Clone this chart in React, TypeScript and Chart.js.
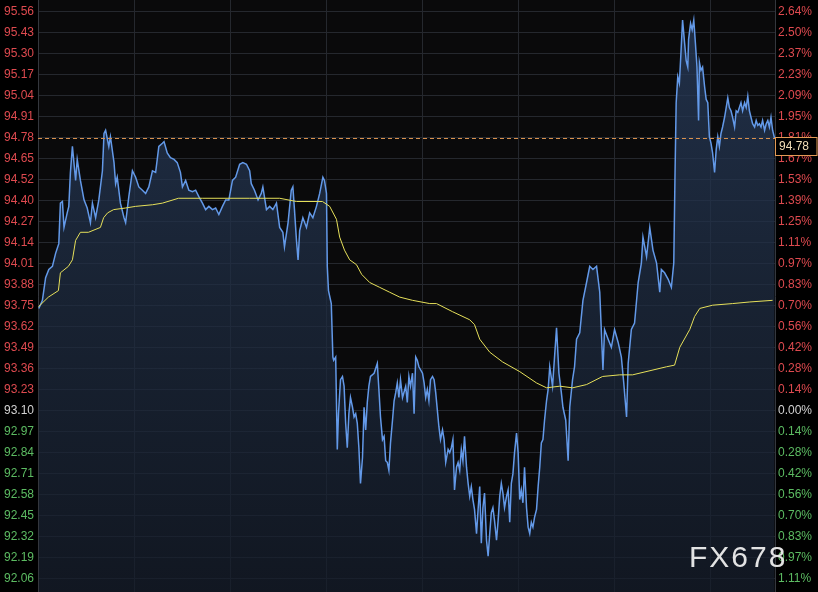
import React, { useEffect, useRef } from "react";
import { Chart, registerables } from "chart.js";

Chart.register(...registerables);

// ---------- DATA ----------
// minutes since the start of the window (gridline every 240 min)
const priceTimes = [
  2, 11, 19, 27, 36, 44, 52, 56, 61, 65,
  73, 77, 81, 86, 94, 98, 106, 115, 123, 131,
  136, 144, 152, 161, 165, 169, 177, 181, 190, 194,
  198, 206, 215, 219, 227, 236, 244, 252, 261, 269,
  277, 286, 294, 302, 311, 315, 323, 331, 340, 348,
  356, 361, 369, 377, 386, 394, 402, 411, 419, 427,
  436, 444, 452, 461, 469, 477, 486, 494, 504, 512,
  521, 529, 533, 541, 550, 558, 562, 571, 579, 587,
  596, 604, 612, 616, 625, 633, 637, 641, 646, 650,
  654, 662, 671, 679, 687, 696, 704, 712, 716, 721,
  723, 726, 733, 737, 739, 744, 748, 751, 756, 761,
  765, 769, 773, 777, 781, 786, 790, 794, 798, 802,
  806, 811, 815, 819, 823, 827, 831, 840, 848, 852,
  856, 861, 865, 869, 873, 877, 881, 886, 890, 894,
  898, 902, 906, 911, 919, 923, 927, 931, 936, 940,
  944, 948, 952, 961, 965, 969, 973, 977, 981, 986,
  990, 994, 1002, 1006, 1011, 1015, 1019, 1025, 1029, 1033,
  1037, 1041, 1046, 1050, 1054, 1058, 1062, 1066, 1071, 1075,
  1079, 1083, 1087, 1091, 1096, 1100, 1104, 1108, 1112, 1116,
  1121, 1125, 1129, 1133, 1137, 1141, 1146, 1150, 1154, 1158,
  1162, 1166, 1171, 1175, 1179, 1183, 1187, 1191, 1196, 1200,
  1204, 1208, 1212, 1216, 1221, 1225, 1229, 1233, 1237, 1241,
  1246, 1250, 1254, 1258, 1262, 1266, 1271, 1275, 1279, 1286,
  1291, 1296, 1302, 1308, 1312, 1319, 1325, 1329, 1336, 1341,
  1346, 1354, 1362, 1371, 1379, 1387, 1396, 1404, 1412, 1416,
  1425, 1433, 1441, 1450, 1458, 1464, 1471, 1475, 1483, 1491,
  1500, 1508, 1512, 1521, 1529, 1537, 1546, 1554, 1558, 1566,
  1575, 1583, 1589, 1592, 1595, 1599, 1603, 1607, 1611, 1616,
  1620, 1624, 1626, 1631, 1635, 1639, 1643, 1647, 1651, 1653,
  1657, 1661, 1666, 1670, 1674, 1678, 1682, 1686, 1691, 1695,
  1699, 1703, 1707, 1711, 1716, 1720, 1724, 1728, 1732, 1736,
  1741, 1745, 1749, 1753, 1757, 1761, 1766, 1770, 1774, 1778,
  1782, 1786, 1791, 1795, 1799, 1803, 1807, 1811, 1816, 1820,
  1824, 1828, 1832, 1836, 1841,
];

const prices = [
  93.73, 93.78, 93.92, 93.97, 93.99, 94.07, 94.13, 94.38, 94.39, 94.23,
  94.32, 94.36, 94.57, 94.73, 94.52, 94.65, 94.52, 94.40, 94.35, 94.26,
  94.38, 94.29, 94.40, 94.58, 94.81, 94.83, 94.73, 94.79, 94.63, 94.50,
  94.54, 94.38, 94.29, 94.26, 94.42, 94.58, 94.54, 94.48, 94.46, 94.44,
  94.48, 94.58, 94.57, 94.73, 94.75, 94.76, 94.69, 94.66, 94.65, 94.63,
  94.57, 94.48, 94.52, 94.46, 94.45, 94.46, 94.42, 94.38, 94.34, 94.36,
  94.34, 94.35, 94.31, 94.36, 94.40, 94.40, 94.52, 94.54, 94.62, 94.63,
  94.62, 94.58, 94.50, 94.46, 94.40, 94.44, 94.48, 94.34, 94.36, 94.34,
  94.38, 94.23, 94.20, 94.11, 94.26, 94.46, 94.48, 94.34, 94.15, 94.03,
  94.21, 94.29, 94.23, 94.32, 94.29, 94.36, 94.44, 94.54, 94.52, 94.44,
  93.99, 93.84, 93.76, 93.43, 93.41, 93.43, 92.86, 93.08, 93.29, 93.31,
  93.25, 93.02, 92.87, 93.08, 93.18, 93.12, 93.06, 93.08, 93.02, 92.87,
  92.65, 92.81, 93.12, 92.98, 93.15, 93.25, 93.31, 93.33, 93.39, 93.23,
  93.06, 92.92, 92.94, 92.79, 92.78, 92.73, 92.90, 93.04, 93.16, 93.21,
  93.27, 93.18, 93.29, 93.18, 93.25, 93.15, 93.31, 93.25, 93.33, 93.08,
  93.43, 93.41, 93.37, 93.33, 93.27, 93.18, 93.23, 93.16, 93.29, 93.31,
  93.29, 93.21, 93.00, 92.92, 92.98, 92.92, 92.78, 92.86, 92.84, 92.87,
  92.92, 92.61, 92.75, 92.78, 92.73, 92.86, 92.79, 92.94, 92.75, 92.65,
  92.57, 92.63, 92.55, 92.49, 92.34, 92.49, 92.63, 92.28, 92.50, 92.59,
  92.30, 92.20, 92.34, 92.47, 92.50, 92.42, 92.30, 92.42, 92.57, 92.65,
  92.59, 92.50, 92.57, 92.61, 92.41, 92.65, 92.71, 92.84, 92.96, 92.84,
  92.55, 92.61, 92.53, 92.75, 92.50, 92.38, 92.34, 92.41, 92.38, 92.44,
  92.49, 92.63, 92.75, 92.90, 92.92, 93.04, 93.16, 93.23, 93.37, 93.25,
  93.43, 93.61, 93.33, 93.21, 93.12, 93.04, 92.79, 93.12, 93.29, 93.37,
  93.54, 93.58, 93.78, 93.89, 93.99, 93.97, 93.99, 93.83, 93.35, 93.60,
  93.54, 93.49, 93.60, 93.52, 93.43, 93.27, 93.06, 93.39, 93.60, 93.64,
  93.89, 94.01, 94.17, 94.05, 94.23, 94.09, 94.01, 93.83, 93.97, 93.95,
  93.91, 93.86, 94.01, 94.54, 95.00, 95.16, 95.12, 95.31, 95.51, 95.37,
  95.26, 95.22, 95.39, 95.49, 95.45, 95.51, 95.37, 95.22, 94.89, 95.25,
  95.20, 95.22, 95.10, 95.02, 95.00, 94.79, 94.75, 94.69, 94.57, 94.71,
  94.79, 94.73, 94.81, 94.85, 94.91, 94.97, 95.03, 94.97, 94.95, 94.91,
  94.85, 94.95, 94.94, 94.97, 95.00, 94.95, 95.00, 94.97, 95.04, 94.95,
  94.91, 94.87, 94.85, 94.89, 94.86, 94.87, 94.85, 94.89, 94.83, 94.87,
  94.89, 94.85, 94.91, 94.83, 94.78,
];

const maTimes = [
  1, 26, 51, 56, 76, 86, 94, 106, 126, 156,
  164, 174, 189, 219, 244, 286, 311, 351, 411, 479,
  529, 604, 646, 711, 729, 746, 754, 766, 779, 796,
  809, 829, 854, 879, 904, 936, 979, 996, 1036, 1079,
  1091, 1104, 1129, 1161, 1204, 1246, 1271, 1304, 1336, 1371,
  1411, 1454, 1486, 1571, 1591, 1604, 1629, 1641, 1654, 1686,
  1736, 1779, 1836,
];

const maValues = [
  93.74, 93.80, 93.84, 93.95, 93.99, 94.03, 94.15, 94.20, 94.20, 94.23,
  94.29, 94.32, 94.34, 94.35, 94.36, 94.37, 94.38, 94.41, 94.41, 94.41,
  94.41, 94.41, 94.39, 94.39, 94.36, 94.28, 94.17, 94.09, 94.03, 94.00,
  93.94, 93.89, 93.86, 93.83, 93.80, 93.78, 93.76, 93.76, 93.71, 93.66,
  93.63, 93.54, 93.46, 93.40, 93.34, 93.27, 93.24, 93.25, 93.24, 93.26,
  93.31, 93.32, 93.32, 93.37, 93.38, 93.49, 93.60, 93.68, 93.73, 93.75,
  93.76, 93.77, 93.78,
];

const leftTickLabels = [
  "95.56", "95.43", "95.30", "95.17", "95.04", "94.91", "94.78",
  "94.65", "94.52", "94.40", "94.27", "94.14", "94.01", "93.88",
  "93.75", "93.62", "93.49", "93.36", "93.23", "93.10", "92.97",
  "92.84", "92.71", "92.58", "92.45", "92.32", "92.19", "92.06",
];

const rightTickLabels = [
  "2.64%", "2.50%", "2.37%", "2.23%", "2.09%", "1.95%", "1.81%",
  "1.67%", "1.53%", "1.39%", "1.25%", "1.11%", "0.97%", "0.83%",
  "0.70%", "0.56%", "0.42%", "0.28%", "0.14%", "0.00%", "0.14%",
  "0.28%", "0.42%", "0.56%", "0.70%", "0.83%", "0.97%", "1.11%",
];

const baseLabel = "93.10";
const lastPrice = 94.78;
const lastPriceLabel = "94.78";
const gridTimes = [0, 240, 480, 720, 960, 1200, 1440, 1680];
const timeSpan = 1842;
const watermark = "FX678";

// ---------- STYLE ----------
const W = 818;
const H = 592;
const FONT = '"Liberation Sans", Arial, sans-serif';
const RED = "#de4a4f";
const GREEN = "#5cbb62";
const WHITE = "#d2d2d2";
const GRID = "#25282e";

export default function App() {
  const ref = useRef<HTMLCanvasElement | null>(null);

  useEffect(() => {
    document.body.style.margin = "0";
    document.body.style.background = "#000";
    const canvas = ref.current;
    if (!canvas) return;

    const n = leftTickLabels.length;
    const topV = parseFloat(leftTickLabels[0]);
    const botV = parseFloat(leftTickLabels[n - 1]);
    const step = (topV - botV) / (n - 1);
    const tickValues = leftTickLabels.map((_, i) => botV + i * step); // ascending
    const baseIdx = leftTickLabels.indexOf(baseLabel);
    const baseValue = topV - baseIdx * step;
    const yMin = botV - step * 0.62;
    const yMax = topV + step * 0.57;

    const tickColor = (c: any) => {
      const v = c && c.tick ? c.tick.value : baseValue;
      if (Math.abs(v - baseValue) < step / 4) return WHITE;
      return v > baseValue ? RED : GREEN;
    };

    const labelFor = (arr: string[]) => (_v: any, idx: number) => arr[n - 1 - idx];

    const setTicks = (scale: any) => {
      scale.ticks = tickValues.map((v) => ({ value: v }));
    };

    const fitY = (w: number) => (scale: any) => {
      scale.width = w;
      scale.paddingTop = 0;
      scale.paddingBottom = 0;
    };

    const decor = {
      id: "decor",
      beforeDraw(chart: any) {
        const { ctx, chartArea: a } = chart;
        ctx.save();
        ctx.fillStyle = "#000";
        ctx.fillRect(0, 0, chart.width, chart.height);
        ctx.fillStyle = "#0a0a0b";
        ctx.fillRect(a.left, a.top, a.right - a.left, a.bottom - a.top);
        ctx.restore();
      },
      afterDraw(chart: any) {
        const { ctx, chartArea: a } = chart;
        const py = Math.round(chart.scales.y.getPixelForValue(lastPrice)) + 0.5;
        ctx.save();
        ctx.strokeStyle = "#d9914e";
        ctx.lineWidth = 1;
        ctx.setLineDash([4, 3]);
        ctx.beginPath();
        ctx.moveTo(a.left, py);
        ctx.lineTo(a.right, py);
        ctx.stroke();
        ctx.setLineDash([]);
        // price box
        const bx = a.right + 0.5;
        const by = py - 1;
        ctx.fillStyle = "#000";
        ctx.fillRect(bx, by, chart.width - bx - 0.5, 18);
        ctx.strokeStyle = "#e39a55";
        ctx.strokeRect(bx, by, chart.width - bx - 1, 18);
        ctx.fillStyle = "#f3dfb8";
        ctx.font = `12px ${FONT}`;
        ctx.textAlign = "left";
        ctx.textBaseline = "middle";
        ctx.fillText(lastPriceLabel, a.right + 4, by + 9.5);
        // watermark
        ctx.font = `30px ${FONT}`;
        (ctx as any).letterSpacing = "2px";
        ctx.fillStyle = "rgba(238,238,238,0.95)";
        ctx.textBaseline = "alphabetic";
        ctx.fillText(watermark, 689, 567);
        ctx.restore();
      },
    };

    const chart = new Chart(canvas, {
      type: "line",
      data: {
        datasets: [
          {
            label: "MA",
            data: maTimes.map((t, i) => ({ x: t, y: maValues[i] })),
            borderColor: "#e6e05a",
            borderWidth: 1,
            pointRadius: 0,
            fill: false,
            tension: 0,
          },
          {
            label: "Price",
            data: priceTimes.map((t, i) => ({ x: t, y: prices[i] })),
            borderColor: "#6399e8",
            borderWidth: 1.5,
            pointRadius: 0,
            tension: 0,
            fill: "start",
            backgroundColor: (c: any) => {
              const ch = c.chart;
              const area = ch.chartArea;
              if (!area) return "rgba(30,45,68,0.75)";
              const g = ch.ctx.createLinearGradient(0, area.top, 0, area.bottom);
              g.addColorStop(0, "rgba(40,60,92,0.78)");
              g.addColorStop(0.5, "rgba(30,44,66,0.72)");
              g.addColorStop(1, "rgba(20,28,42,0.72)");
              return g;
            },
          },
        ],
      },
      options: {
        responsive: false,
        animation: false,
        devicePixelRatio: 1,
        layout: { padding: 0 },
        plugins: {
          legend: { display: false },
          tooltip: { enabled: false },
        },
        font: { family: FONT, size: 12 },
        scales: {
          x: {
            type: "linear",
            min: 0,
            max: timeSpan,
            afterBuildTicks: (scale: any) => {
              scale.ticks = gridTimes.map((v) => ({ value: v }));
            },
            ticks: { display: false },
            grid: { color: GRID, drawTicks: false },
            border: { display: false },
          },
          y: {
            type: "linear",
            position: "left",
            min: yMin,
            max: yMax,
            afterBuildTicks: setTicks,
            afterFit: fitY(38),
            ticks: {
              autoSkip: false,
              padding: 4,
              color: tickColor,
              font: { family: FONT, size: 12 },
              callback: labelFor(leftTickLabels),
            },
            grid: { color: GRID, drawTicks: false },
            border: { display: true, color: "#34373d" },
          },
          y2: {
            type: "linear",
            position: "right",
            min: yMin,
            max: yMax,
            afterBuildTicks: setTicks,
            afterFit: fitY(43),
            ticks: {
              autoSkip: false,
              padding: 3,
              color: tickColor,
              font: { family: FONT, size: 12 },
              callback: labelFor(rightTickLabels),
            },
            grid: { display: false, drawTicks: false },
            border: { display: true, color: "#34373d" },
          },
        },
      } as any,
      plugins: [decor],
    });

    return () => chart.destroy();
  }, []);

  return (
    <div style={{ position: "absolute", left: 0, top: 0, width: W, height: H, background: "#000" }}>
      <canvas ref={ref} width={W} height={H} style={{ display: "block", width: W, height: H }} />
    </div>
  );
}
